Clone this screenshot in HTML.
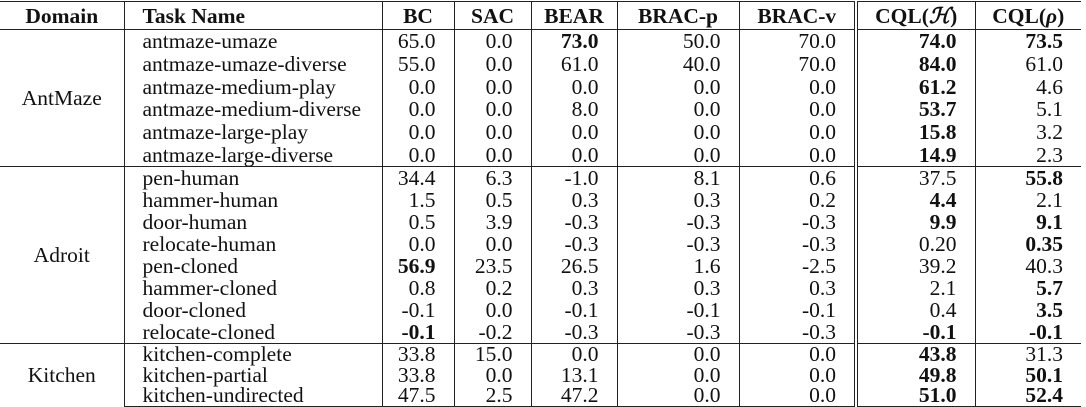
<!DOCTYPE html>
<html><head><meta charset="utf-8"><style>
html,body{margin:0;padding:0;background:#fff;}
body{width:1086px;height:405px;overflow:hidden;position:relative;}
table{position:absolute;left:0;top:1px;border-collapse:collapse;table-layout:fixed;width:1081px;
font-family:"Liberation Serif","Times New Roman",serif;font-size:21.5px;color:#111;}
td,th{padding:0;line-height:20px;white-space:nowrap;overflow:visible;}
th{font-weight:bold;height:27px;text-align:center;border-top:1.5px solid #222;border-bottom:1.5px solid #222;}
td{height:22px;text-align:right;padding-right:18px;}
tr.a td{height:22.7px;}
td.d{text-align:center;padding-right:0;}
td.t{text-align:left;padding-left:18px;padding-right:0;}
.b{border-right:1.5px solid #222;}
.dbl{border-right:4px double #222;}
tr.sep td{border-top:1.5px solid #222;}
tr.k td{height:20.5px;}
tr.last td{border-bottom:1.5px solid #222;}
b{font-weight:bold;}
i{font-style:italic;}
</style></head><body>
<table>
<colgroup><col style="width:124px"><col style="width:258px"><col style="width:72px"><col style="width:77px"><col style="width:86px"><col style="width:122px"><col style="width:117px"><col style="width:119px"><col style="width:106px"></colgroup>
<tr><th class="b">Domain</th><th class="b" style="text-align:left;padding-left:18px">Task Name</th><th class="b">BC</th><th class="b">SAC</th><th class="b">BEAR</th><th class="b">BRAC-p</th><th class="dbl">BRAC-v</th><th class="b">CQL(<i>ℋ</i>)</th><th>CQL(<i>ρ</i>)</th></tr>
<tr class="a"><td class="d b" rowspan="6">AntMaze</td><td class="t b">antmaze-umaze</td><td class="b">65.0</td><td class="b">0.0</td><td class="b"><b>73.0</b></td><td class="b">50.0</td><td class="dbl">70.0</td><td class="b"><b>74.0</b></td><td><b>73.5</b></td></tr>
<tr class="a"><td class="t b">antmaze-umaze-diverse</td><td class="b">55.0</td><td class="b">0.0</td><td class="b">61.0</td><td class="b">40.0</td><td class="dbl">70.0</td><td class="b"><b>84.0</b></td><td>61.0</td></tr>
<tr class="a"><td class="t b">antmaze-medium-play</td><td class="b">0.0</td><td class="b">0.0</td><td class="b">0.0</td><td class="b">0.0</td><td class="dbl">0.0</td><td class="b"><b>61.2</b></td><td>4.6</td></tr>
<tr class="a"><td class="t b">antmaze-medium-diverse</td><td class="b">0.0</td><td class="b">0.0</td><td class="b">8.0</td><td class="b">0.0</td><td class="dbl">0.0</td><td class="b"><b>53.7</b></td><td>5.1</td></tr>
<tr class="a"><td class="t b">antmaze-large-play</td><td class="b">0.0</td><td class="b">0.0</td><td class="b">0.0</td><td class="b">0.0</td><td class="dbl">0.0</td><td class="b"><b>15.8</b></td><td>3.2</td></tr>
<tr class="a"><td class="t b">antmaze-large-diverse</td><td class="b">0.0</td><td class="b">0.0</td><td class="b">0.0</td><td class="b">0.0</td><td class="dbl">0.0</td><td class="b"><b>14.9</b></td><td>2.3</td></tr>
<tr class="sep"><td class="d b" rowspan="8">Adroit</td><td class="t b">pen-human</td><td class="b">34.4</td><td class="b">6.3</td><td class="b">-1.0</td><td class="b">8.1</td><td class="dbl">0.6</td><td class="b">37.5</td><td><b>55.8</b></td></tr>
<tr><td class="t b">hammer-human</td><td class="b">1.5</td><td class="b">0.5</td><td class="b">0.3</td><td class="b">0.3</td><td class="dbl">0.2</td><td class="b"><b>4.4</b></td><td>2.1</td></tr>
<tr><td class="t b">door-human</td><td class="b">0.5</td><td class="b">3.9</td><td class="b">-0.3</td><td class="b">-0.3</td><td class="dbl">-0.3</td><td class="b"><b>9.9</b></td><td><b>9.1</b></td></tr>
<tr><td class="t b">relocate-human</td><td class="b">0.0</td><td class="b">0.0</td><td class="b">-0.3</td><td class="b">-0.3</td><td class="dbl">-0.3</td><td class="b">0.20</td><td><b>0.35</b></td></tr>
<tr><td class="t b">pen-cloned</td><td class="b"><b>56.9</b></td><td class="b">23.5</td><td class="b">26.5</td><td class="b">1.6</td><td class="dbl">-2.5</td><td class="b">39.2</td><td>40.3</td></tr>
<tr><td class="t b">hammer-cloned</td><td class="b">0.8</td><td class="b">0.2</td><td class="b">0.3</td><td class="b">0.3</td><td class="dbl">0.3</td><td class="b">2.1</td><td><b>5.7</b></td></tr>
<tr><td class="t b">door-cloned</td><td class="b">-0.1</td><td class="b">0.0</td><td class="b">-0.1</td><td class="b">-0.1</td><td class="dbl">-0.1</td><td class="b">0.4</td><td><b>3.5</b></td></tr>
<tr><td class="t b">relocate-cloned</td><td class="b"><b>-0.1</b></td><td class="b">-0.2</td><td class="b">-0.3</td><td class="b">-0.3</td><td class="dbl">-0.3</td><td class="b"><b>-0.1</b></td><td><b>-0.1</b></td></tr>
<tr class="sep k"><td class="d b" rowspan="3">Kitchen</td><td class="t b">kitchen-complete</td><td class="b">33.8</td><td class="b">15.0</td><td class="b">0.0</td><td class="b">0.0</td><td class="dbl">0.0</td><td class="b"><b>43.8</b></td><td>31.3</td></tr>
<tr class="k"><td class="t b">kitchen-partial</td><td class="b">33.8</td><td class="b">0.0</td><td class="b">13.1</td><td class="b">0.0</td><td class="dbl">0.0</td><td class="b"><b>49.8</b></td><td><b>50.1</b></td></tr>
<tr class="k last"><td class="t b">kitchen-undirected</td><td class="b">47.5</td><td class="b">2.5</td><td class="b">47.2</td><td class="b">0.0</td><td class="dbl">0.0</td><td class="b"><b>51.0</b></td><td><b>52.4</b></td></tr>
</table>
</body></html>
